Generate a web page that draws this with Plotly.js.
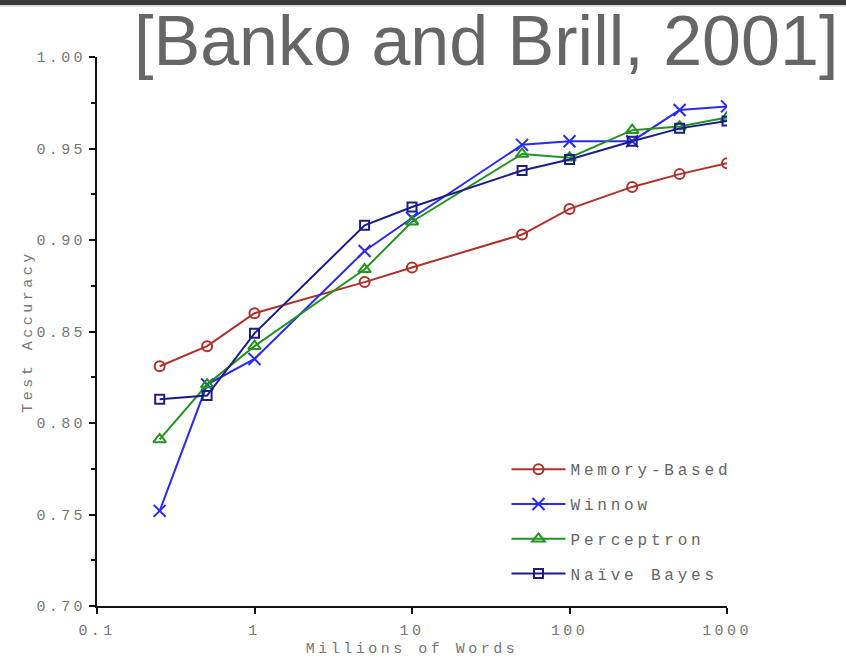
<!DOCTYPE html>
<html>
<head>
<meta charset="utf-8">
<script src="https://cdn.plot.ly/plotly-3.0.1.min.js"></script>
<style>
  html, body { margin: 0; padding: 0; background: #fff; }
  #topbar { position: absolute; left: 0; top: 0; width: 846px; height: 5px; background: #3b3b3b; z-index: 5; }
  #topline { position: absolute; left: 0; top: 5px; width: 846px; height: 2px; background: #dcdcdc; z-index: 5; }
  #chart { width: 846px; height: 658px; }
  #chart .xtick text, #chart .ytick text { letter-spacing: 3.4px; }
  #chart .xtitle, #chart .ytitle { letter-spacing: 3.5px; }
  #chart .legendtext { letter-spacing: 3.8px; }
  #chart .legend .scrollbox { clip-path: none !important; }
</style>
</head>
<body>
<div id="topbar"></div>
<div id="topline"></div>
<div id="chart"></div>
<script>
const words = [0.25, 0.5, 1, 5, 10, 50, 100, 250, 500, 1000];
const memoryBased = [0.831, 0.842, 0.860, 0.877, 0.885, 0.903, 0.917, 0.929, 0.936, 0.942];
const winnow      = [0.752, 0.821, 0.835, 0.894, 0.912, 0.952, 0.954, 0.954, 0.971, 0.973];
const perceptron  = [0.791, 0.821, 0.842, 0.884, 0.910, 0.947, 0.945, 0.960, 0.962, 0.967];
const naiveBayes  = [0.813, 0.815, 0.849, 0.908, 0.918, 0.938, 0.944, 0.954, 0.961, 0.965];
const seriesNames = ['Memory-Based', 'Winnow', 'Perceptron', 'Naïve Bayes'];
const xTickVals = [0.1, 1, 10, 100, 1000];
const xTickText = ['0.1', '1', '10', '100', '1000'];
const yTickVals = [0.70, 0.75, 0.80, 0.85, 0.90, 0.95, 1.00];
const yTickText = ['0.70', '0.75', '0.80', '0.85', '0.90', '0.95', '1.00'];

const mono = 'Liberation Mono, Courier New, monospace';
const styles = [
  {color: '#b0302a', symbol: 'circle-open', size: 10},
  {color: '#2a2af5', symbol: 'x-thin-open', size: 12},
  {color: '#23941f', symbol: 'triangle-up-open', size: 11},
  {color: '#1d1d8a', symbol: 'square-open', size: 9}
];
const values = [memoryBased, winnow, perceptron, naiveBayes];
const traces = values.map((v, i) => ({
  x: words, y: v, name: seriesNames[i], type: 'scatter', mode: 'lines+markers',
  legendgroup: 'g' + i,
  line: {color: styles[i].color, width: 2},
  marker: {symbol: styles[i].symbol, size: styles[i].size, color: styles[i].color,
           line: {color: styles[i].color, width: 2}}
}));

const layout = {
  width: 846, height: 658,
  margin: {l: 97, r: 119, t: 57, b: 52},
  paper_bgcolor: '#fff', plot_bgcolor: '#fff',
  showlegend: true,
  legend: {x: 0.65, y: 0.28, xanchor: 'left', yanchor: 'top', bgcolor: 'rgba(0,0,0,0)',
           font: {family: mono, size: 16, color: '#666'}, tracegroupgap: 11, itemwidth: 54},
  xaxis: {
    type: 'log', range: [-1, 3], tickvals: xTickVals, ticktext: xTickText,
    showgrid: false, zeroline: false, showline: true, linecolor: '#111', linewidth: 2,
    ticks: 'outside', ticklen: 6, tickwidth: 2, tickcolor: '#111', ticklabelstandoff: 3,
    tickfont: {family: mono, size: 15, color: '#777'},
    title: {text: 'Millions of Words', font: {family: mono, size: 15, color: '#777'}, standoff: 6}
  },
  yaxis: {
    range: [0.70, 1.00], tickvals: yTickVals, ticktext: yTickText,
    showgrid: false, zeroline: false, showline: true, linecolor: '#111', linewidth: 2,
    ticks: 'outside', ticklen: 6, tickwidth: 2, tickcolor: '#111',
    minor: {dtick: 0.025, ticks: 'outside', ticklen: 4, tickwidth: 2, tickcolor: '#111', showgrid: false},
    tickfont: {family: mono, size: 15, color: '#777'},
    title: {text: 'Test Accuracy', font: {family: mono, size: 15, color: '#777'}, standoff: 14}
  },
  annotations: [{
    text: '[Banko and Brill, 2001]', xref: 'paper', yref: 'paper',
    x: 1.18, y: 1.0, xanchor: 'right', yanchor: 'middle', showarrow: false, yshift: 16,
    font: {family: 'Liberation Sans, Arial, sans-serif', size: 70, color: '#666'}
  }]
};

Plotly.newPlot('chart', traces, layout, {displayModeBar: false, staticPlot: true});
</script>
</body>
</html>
